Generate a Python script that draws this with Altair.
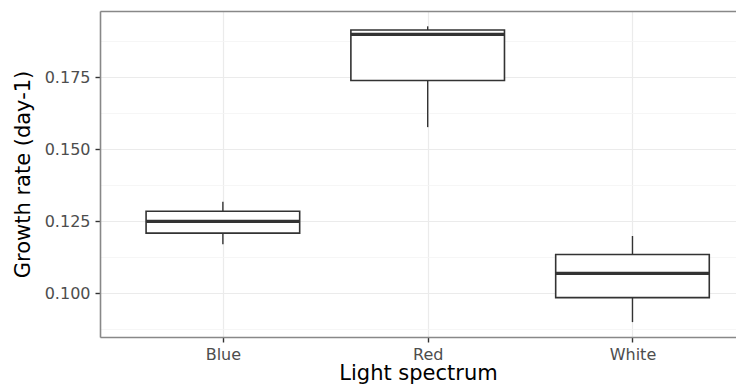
import altair as alt
import pandas as pd

# Data
categories = ["Blue", "Red", "White"]
positions = [1, 2, 3]
whisker_low = [0.1170, 0.1577, 0.0900]
q1 = [0.1209, 0.1739, 0.0985]
median = [0.1250, 0.1899, 0.1069]
q3 = [0.1285, 0.1914, 0.1135]
whisker_high = [0.1318, 0.1927, 0.1199]

y_ticks = [0.0875, 0.100, 0.1125, 0.125, 0.1375, 0.150, 0.1625, 0.175, 0.1875]

df = pd.DataFrame({
    "cat": categories, "pos": positions,
    "lo": whisker_low, "q1": q1, "med": median, "q3": q3, "hi": whisker_high,
})

W = 636
H = 326
px_per_unit = 204.8
x_dom = [0.4, 0.4 + W / px_per_unit]
y_dom = [0.08483, 0.19802]

FONT = "DejaVu Sans"
DARK = "#333333"
BORDER = "#888888"
major_test = "abs(datum.value*40 - round(datum.value*40)) < 0.001"

x_axis = alt.Axis(
    values=positions,
    labelExpr="datum.value == 1 ? 'Blue' : datum.value == 2 ? 'Red' : 'White'",
    title="Light spectrum", titleFontSize=21, titleFont=FONT, titleFontWeight="normal",
    titleColor="black", titlePadding=0.7,
    labelFont=FONT, labelFontSize=16, labelColor="#4d4d4d", labelPadding=4,
    tickSize=5, tickColor=DARK, tickWidth=1.4,
    domain=True, domainColor=BORDER, domainWidth=1.6,
    grid=True, gridColor="#ebebeb", gridWidth=1.2,
)
y_axis = alt.Axis(
    values=y_ticks,
    labelExpr="abs(datum.value*40 - round(datum.value*40)) < 0.001 ? format(datum.value, '.3f') : ''",
    title="Growth rate (day-1)", titleFontSize=21, titleFont=FONT, titleFontWeight="normal",
    titleColor="black", titlePadding=10.5,
    labelFont=FONT, labelFontSize=16, labelColor="#4d4d4d", labelPadding=5,
    tickSize=5, tickWidth=1.4,
    tickColor=alt.condition(major_test, alt.value(DARK), alt.value("transparent")),
    domain=True, domainColor=BORDER, domainWidth=1.6,
    grid=True,
    gridColor=alt.condition(major_test, alt.value("#ebebeb"), alt.value("#f4f4f4")),
    gridWidth=alt.condition(major_test, alt.value(1.2), alt.value(0.8)),
)
top_axis = alt.Axis(
    orient="top", labels=False, ticks=False, grid=False, title=None,
    domain=True, domainColor=BORDER, domainWidth=1.6,
)

x_scale = alt.Scale(domain=x_dom, nice=False, zero=False)
y_scale = alt.Scale(domain=y_dom, nice=False, zero=False)

base = alt.Chart(df).transform_calculate(
    xl="datum.pos - 0.375", xr="datum.pos + 0.375"
)

upper = base.mark_rule(color=DARK, strokeWidth=1.4).encode(
    x=alt.X("pos:Q", scale=x_scale, axis=x_axis),
    y=alt.Y("q3:Q", scale=y_scale, axis=y_axis),
    y2="hi:Q",
)
lower = base.mark_rule(color=DARK, strokeWidth=1.4).encode(
    x=alt.X("pos:Q", scale=x_scale, axis=None),
    y=alt.Y("lo:Q", scale=y_scale),
    y2="q1:Q",
)
box = base.mark_bar(fill="white", stroke=DARK, strokeWidth=1.6).encode(
    x=alt.X("xl:Q", scale=x_scale, axis=None),
    x2="xr:Q",
    y=alt.Y("q1:Q", scale=y_scale),
    y2="q3:Q",
)
med = base.mark_rule(color=DARK, strokeWidth=3.2).encode(
    x=alt.X("xl:Q", scale=x_scale, axis=None),
    x2="xr:Q",
    y=alt.Y("med:Q", scale=y_scale),
)
frame_top = base.mark_rule(opacity=0).encode(
    x=alt.X("pos:Q", scale=x_scale, axis=top_axis),
    y=alt.Y("med:Q", scale=y_scale),
)

chart = alt.layer(upper, lower, box, med, frame_top).resolve_axis(
    x="independent"
).properties(
    width=W, height=H,
    autosize=alt.AutoSizeParams(type="none"),
    padding={"left": 92, "top": 3, "right": 0, "bottom": 47},
).configure_view(stroke=None).configure(background="white")

chart.save("out.html", embed_options={"renderer": "svg", "actions": False})
